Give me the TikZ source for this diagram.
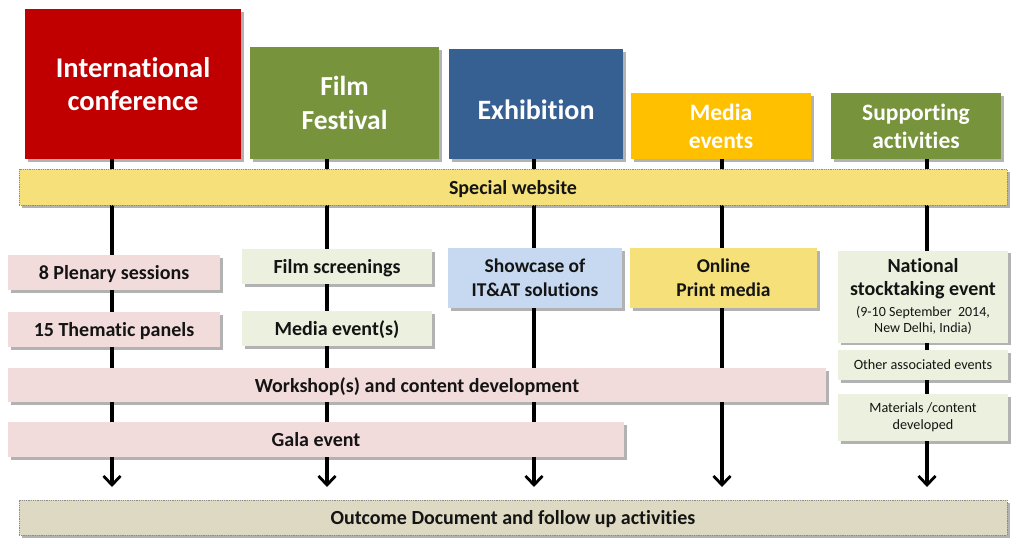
\documentclass[tikz,border=0pt]{standalone}
\usepackage{fontspec}
\setmainfont{Carlito}[Ligatures=NoCommon]
\usetikzlibrary{arrows.meta,shadows,backgrounds}
\definecolor{cred}{HTML}{C00000}
\definecolor{cgreen}{HTML}{77933C}
\definecolor{cblue}{HTML}{376092}
\definecolor{cyellow}{HTML}{FFC000}
\definecolor{cweb}{HTML}{F5E07A}
\definecolor{cpink}{HTML}{F2DCDB}
\definecolor{clgreen}{HTML}{EBF1DE}
\definecolor{clblue}{HTML}{C6D9F1}
\definecolor{cout}{HTML}{DDD9C3}
\tikzset{
  box/.style={inner sep=0pt, align=center, font=\bfseries,
    drop shadow={shadow xshift=2.5pt, shadow yshift=-2.5pt, opacity=0.3, fill=black}},
  headbox/.style={box, text=white},
  subbox/.style={box, text=black!92, font=\bfseries\fontsize{20}{24}\selectfont},
  oneline/.style={text height=#1, text depth=0pt},
  oneline/.default=14pt,
  barbox/.style={subbox, oneline, draw=black!45, densely dotted, line width=0.8pt},
  flow/.style={line width=3.2pt, -{Straight Barb[length=9pt,width=17pt,line width=2.8pt]}},
}
\begin{document}
\begin{tikzpicture}[x=1pt,y=-1pt]
\useasboundingbox (0,0) rectangle (1012,538);
% top boxes
\node[headbox, fill=cred, minimum width=216, minimum height=150,
  font=\bfseries\fontsize{28.5}{33}\selectfont] (c1) at (133,84) {International\\conference};
\node[headbox, fill=cgreen, minimum width=189, minimum height=112,
  font=\bfseries\fontsize{27.5}{34}\selectfont] (c2) at (344.5,103) {Film\\Festival};
\node[headbox, fill=cblue, minimum width=174, minimum height=110, text height=31pt,
  font=\bfseries\fontsize{28}{34}\selectfont] (c3) at (536,104) {Exhibition};
\node[headbox, fill=cyellow, minimum width=180, minimum height=66,
  font=\bfseries\fontsize{23.5}{28}\selectfont] (c4) at (721,126) {Media\\events};
\node[headbox, fill=cgreen, minimum width=170, minimum height=66,
  font=\bfseries\fontsize{23.5}{28}\selectfont] (c5) at (916,126) {Supporting\\activities};
% website bar
\node[barbox, fill=cweb, minimum width=988, minimum height=36] (web) at (513,187) {Special website};
% column 1
\node[subbox, oneline, fill=cpink, minimum width=212, minimum height=35] (plen) at (114,272.5) {8 Plenary sessions};
\node[subbox, oneline, fill=cpink, minimum width=212, minimum height=35] (them) at (114,329.5) {15 Thematic panels};
% column 2
\node[subbox, oneline, fill=clgreen, minimum width=190, minimum height=35] (film) at (337,266.5) {Film screenings};
\node[subbox, oneline, fill=clgreen, minimum width=190, minimum height=35] (medev) at (337,328.5) {Media event(s)};
% column 3
\node[subbox, fill=clblue, minimum width=174, minimum height=60,
  font=\bfseries\fontsize{19.5}{24}\selectfont] (show) at (535,278) {Showcase of\\IT\&AT solutions};
% column 4
\node[subbox, fill=cweb, minimum width=187, minimum height=60,
  font=\bfseries\fontsize{19.5}{24}\selectfont] (online) at (723.5,278) {Online\\Print media};
% column 5
\node[subbox, fill=clgreen, minimum width=170, minimum height=92,
  font=\bfseries\fontsize{20}{23}\selectfont] (nat) at (923,296.5)
  {National\\stocktaking event\\[-2pt]{\mdseries\fontsize{14}{16}\selectfont (9-10 September~ 2014,}\\[-7pt]{\mdseries\fontsize{14}{16}\selectfont New Delhi, India)}};
\node[subbox, oneline=9.8pt, fill=clgreen, minimum width=170, minimum height=30,
  font=\fontsize{14.2}{17}\selectfont] (other) at (923,365) {Other associated events};
\node[subbox, fill=clgreen, minimum width=170, minimum height=47,
  font=\fontsize{14.2}{17}\selectfont] (mat) at (923,417.5) {Materials /content\\developed};
% wide bars
\node[subbox, oneline, fill=cpink, minimum width=818, minimum height=34] (work) at (417,385) {Workshop(s) and content development};
\node[subbox, oneline, fill=cpink, minimum width=616, minimum height=35] (gala) at (316,439.5) {Gala event};
\node[barbox, fill=cout, minimum width=988, minimum height=35] (out) at (513,517.5) {Outcome Document and follow up activities};
% connector ends
\coordinate (t1) at (112,159); \coordinate (e1) at (112,487);
\coordinate (t2) at (327,159); \coordinate (e2) at (327,487);
\coordinate (t3) at (534,159); \coordinate (e3) at (534,487);
\coordinate (t4) at (722,159); \coordinate (e4) at (722,487);
\coordinate (t5) at (927,159); \coordinate (e5) at (927,487);
\begin{scope}[on background layer]
\draw[flow] (t1) -- (e1);
\draw[flow] (t2) -- (e2);
\draw[flow] (t3) -- (e3);
\draw[flow] (t4) -- (e4);
\draw[flow] (t5) -- (e5);
\end{scope}
\end{tikzpicture}
\end{document}
